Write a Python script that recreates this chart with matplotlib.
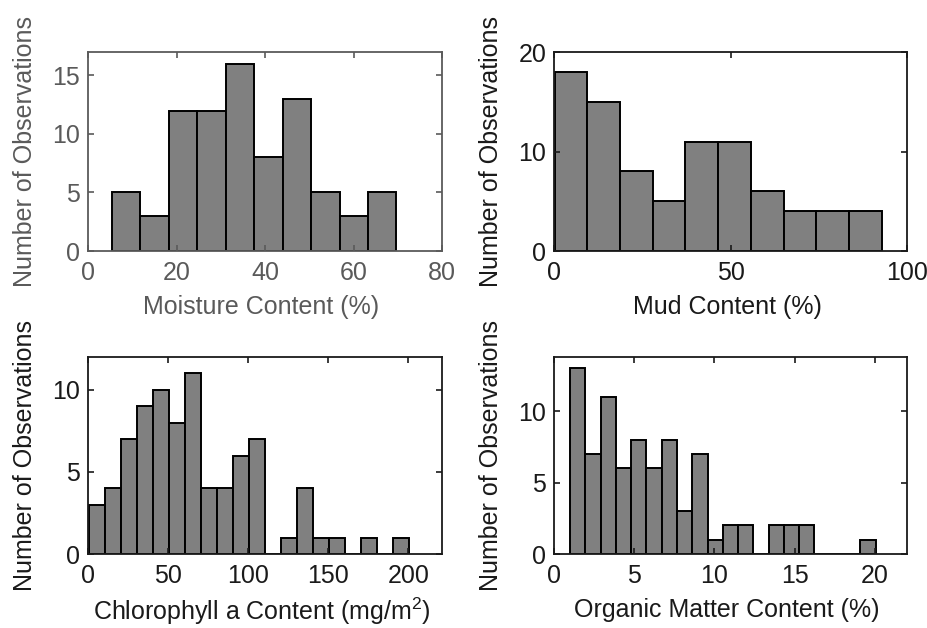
import numpy as np
import matplotlib
matplotlib.use('Agg')
import matplotlib.pyplot as plt

plt.rcParams['font.family'] = ['Liberation Sans', 'DejaVu Sans']
plt.rcParams['mathtext.fontset'] = 'custom'
plt.rcParams['mathtext.rm'] = 'Liberation Sans'

# histogram counts per bin, with the range the bins span
moisture_counts = [5, 3, 12, 12, 16, 8, 13, 5, 3, 5]
moisture_range = (5.4, 69.7)

mud_counts = [18, 15, 8, 5, 11, 11, 6, 4, 4, 4]
mud_range = (0.2, 92.8)

chl_counts = [3, 4, 7, 9, 10, 8, 11, 4, 4, 6, 7, 0, 1, 4, 1, 1, 0, 1, 0, 1]
chl_range = (0.4, 200.4)

om_counts = [13, 7, 11, 6, 8, 6, 8, 3, 7, 1, 2, 2, 0, 2, 2, 2, 0, 0, 0, 1]
om_range = (1.0, 20.04)

W, H = 927, 628
FS = 18
fig = plt.figure(figsize=(W / 100, H / 100), dpi=100)


def panel(box, counts, rng, xlim, ylim, xticks, yticks, xlabel,
          xlab_y, ylab_x, fg):
    l, t, r, b = box
    ax = fig.add_axes([l / W, 1 - b / H, (r - l) / W, (b - t) / H])
    edges = np.linspace(rng[0], rng[1], len(counts) + 1)
    ax.bar(edges[:-1], counts, width=np.diff(edges), align='edge',
           color='#808080', edgecolor='black', linewidth=1.4)
    ax.set_xlim(*xlim)
    ax.set_ylim(*ylim)
    ax.set_xticks(xticks)
    ax.set_yticks(yticks)
    ax.tick_params(direction='in', length=4, width=1.2, top=True, right=True,
                   labelsize=FS, colors=fg)
    ax.tick_params(axis='x', pad=7.5)
    ax.tick_params(axis='y', pad=5.5)
    for s in ax.spines.values():
        s.set_color(fg)
        s.set_linewidth(1.3)
    ax.set_xlabel(xlabel, fontsize=FS, color=fg, va='baseline')
    ax.set_ylabel('Number of Observations', fontsize=FS, color=fg)
    ax.xaxis.set_label_coords(0.49, xlab_y)
    ax.yaxis.set_label_coords(ylab_x, 0.5)
    return ax


panel((88, 52, 442, 251), moisture_counts, moisture_range, (0, 80), (0, 17),
      range(0, 81, 20), [0, 5, 10, 15], 'Moisture Content (%)',
      -0.317, -0.145, '#5a5a5a')
panel((554, 52, 907, 251), mud_counts, mud_range, (0, 100), (0, 20),
      [0, 50, 100], [0, 10, 20], 'Mud Content (%)',
      -0.317, -0.145, '#1a1a1a')
panel((88, 357, 442, 554), chl_counts, chl_range, (0, 221), (0, 12),
      range(0, 201, 50), [0, 5, 10], 'Chlorophyll a Content (mg/m$^2$)',
      -0.335, -0.145, '#1a1a1a')
panel((554, 357, 907, 554), om_counts, om_range, (0, 22), (0, 13.8),
      range(0, 21, 5), [0, 5, 10], 'Organic Matter Content (%)',
      -0.320, -0.145, '#1a1a1a')

fig.savefig('out.png', dpi=100)
